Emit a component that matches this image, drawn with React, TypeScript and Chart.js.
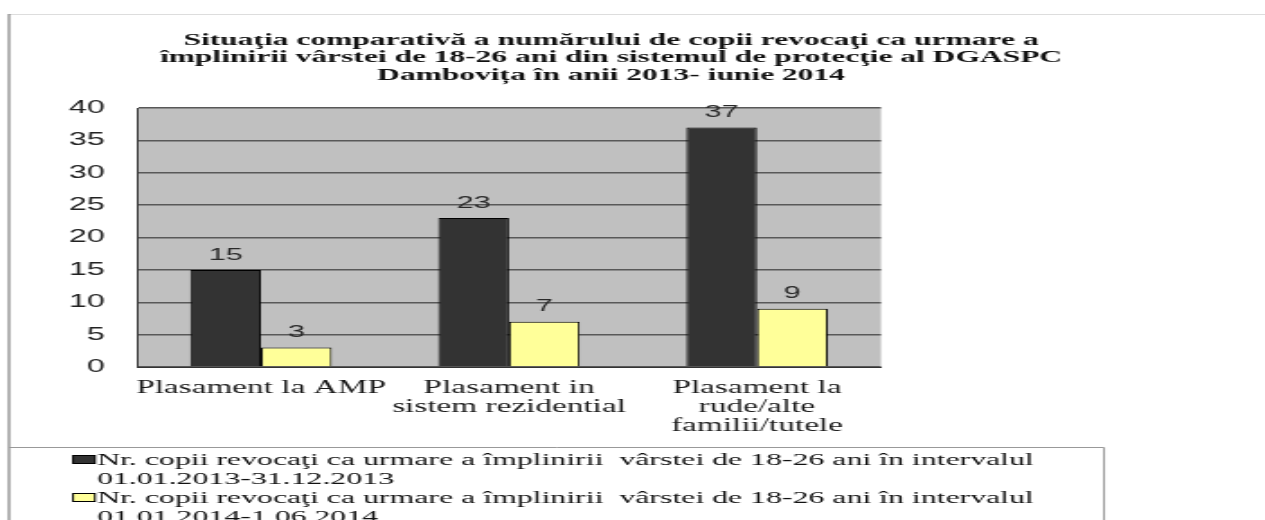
import React, { useEffect, useRef } from 'react';
import { Chart, registerables } from 'chart.js';

Chart.register(...registerables);

// ---- data ----
const CATEGORIES: string[][] = [
  ['Plasament la AMP'],
  ['Plasament in', 'sistem rezidential'],
  ['Plasament la', 'rude/alte', 'familii/tutele'],
];
const VALUES_2013: number[] = [15, 23, 37];
const VALUES_2014: number[] = [3, 7, 9];
const Y_TICKS: number[] = [0, 5, 10, 15, 20, 25, 30, 35, 40];
const TITLE_LINES: string[] = [
  'Situaţia comparativă a numărului de copii revocaţi ca urmare a',
  'împlinirii vârstei de 18-26 ani din sistemul de protecţie al DGASPC',
  'Dambovița în anii 2013- iunie 2014',
];
const LEGEND_2013: string[] = [
  'Nr. copii revocaţi ca urmare a împlinirii  vârstei de 18-26 ani în intervalul',
  '01.01.2013-31.12.2013',
];
const LEGEND_2014: string[] = [
  'Nr. copii revocaţi ca urmare a împlinirii  vârstei de 18-26 ani în intervalul',
  '01.01.2014-1.06.2014',
];

// ---- layout (internal canvas units; canvas is stretched horizontally like the source image) ----
const OUT_W = 1265;
const OUT_H = 520;
const INT_W = 703;
const S = OUT_W / INT_W;
const SERIF = '"Liberation Serif", "Times New Roman", serif';
const SANS = '"Liberation Sans", Arial, sans-serif';

const decorPlugin = {
  id: 'decor',
  beforeDraw(chart: any) {
    const { ctx, chartArea } = chart;
    ctx.save();
    ctx.fillStyle = '#ffffff';
    ctx.fillRect(0, 0, chart.width, chart.height);
    ctx.fillStyle = '#c0c0c0';
    ctx.fillRect(chartArea.left, chartArea.top, chartArea.right - chartArea.left, chartArea.bottom - chartArea.top);
    // outer frame
    ctx.strokeStyle = '#dddddd';
    ctx.lineWidth = 1;
    ctx.beginPath();
    ctx.moveTo(5, 14.5);
    ctx.lineTo(chart.width, 14.5);
    ctx.stroke();
    ctx.strokeStyle = '#666666';
    ctx.beginPath();
    ctx.moveTo(5, 14);
    ctx.lineTo(5, chart.height);
    ctx.stroke();
    // legend box
    const lx = 1104 / S;
    ctx.strokeStyle = '#999999';
    ctx.beginPath();
    ctx.moveTo(5, 447.5);
    ctx.lineTo(lx, 447.5);
    ctx.lineTo(lx, chart.height);
    ctx.stroke();
    ctx.restore();
  },
  afterDatasetsDraw(chart: any) {
    const { ctx } = chart;
    ctx.save();
    ctx.font = `17px ${SANS}`;
    ctx.fillStyle = '#2a2a2a';
    ctx.textAlign = 'center';
    ctx.textBaseline = 'middle';
    chart.data.datasets.forEach((ds: any, di: number) => {
      const meta = chart.getDatasetMeta(di);
      meta.data.forEach((bar: any, i: number) => {
        ctx.fillText(String(ds.data[i]), bar.x, bar.y - 15);
      });
    });
    ctx.restore();
  },
  afterDraw(chart: any) {
    const { ctx } = chart;
    ctx.save();
    // title
    ctx.font = `bold 17.5px ${SERIF}`;
    ctx.fillStyle = '#111111';
    ctx.textAlign = 'center';
    ctx.textBaseline = 'middle';
    const tx = 611 / S;
    TITLE_LINES.forEach((line, i) => ctx.fillText(line, tx, 40 + i * 17.5));
    // legend
    ctx.font = `17.7px ${SERIF}`;
    ctx.textAlign = 'left';
    const items = [
      { lines: LEGEND_2013, ds: chart.data.datasets[0], y: 460 },
      { lines: LEGEND_2014, ds: chart.data.datasets[1], y: 498 },
    ];
    items.forEach((it) => {
      ctx.fillStyle = it.ds.backgroundColor;
      ctx.fillRect(73 / S, it.y - 4.5, 22 / S, 8);
      ctx.strokeStyle = '#000000';
      ctx.lineWidth = 1;
      ctx.strokeRect(73 / S, it.y - 4.5, 22 / S, 8);
      ctx.fillStyle = '#111111';
      it.lines.forEach((line, j) => ctx.fillText(line, 97 / S, it.y + j * 19));
    });
    ctx.restore();
  },
};

export default function App() {
  const ref = useRef<HTMLCanvasElement>(null);
  useEffect(() => {
    if (!ref.current) return;
    const chart = new Chart(ref.current, {
      type: 'bar',
      data: {
        labels: CATEGORIES,
        datasets: [
          {
            label: LEGEND_2013.join(' '),
            data: VALUES_2013,
            backgroundColor: '#333333',
            borderColor: '#000000',
            borderWidth: 1,
            categoryPercentage: 0.57,
            barPercentage: 1.0,
          },
          {
            label: LEGEND_2014.join(' '),
            data: VALUES_2014,
            backgroundColor: '#ffff99',
            borderColor: '#000000',
            borderWidth: 1,
            categoryPercentage: 0.57,
            barPercentage: 1.0,
          },
        ],
      },
      options: {
        responsive: false,
        animation: false,
        devicePixelRatio: 1,
        layout: { padding: { left: 0, right: INT_W - 881 / S, top: 108, bottom: 73 } },
        plugins: {
          legend: { display: false },
          title: { display: false },
          tooltip: { enabled: false },
        },
        scales: {
          x: {
            afterFit: (scale: any) => { scale.height = 80; },
            grid: { display: false, drawTicks: false },
            border: { display: true, color: '#333333', width: 1 },
            ticks: {
              padding: 11.5,
              color: '#1a1a1a',
              font: { family: SERIF, size: 18.5, lineHeight: 19 / 18.5 },
              maxRotation: 0,
              autoSkip: false,
            },
          },
          y: {
            min: Y_TICKS[0],
            max: Y_TICKS[Y_TICKS.length - 1],
            afterFit: (scale: any) => { scale.width = 137 / S; },
            afterBuildTicks: (scale: any) => { scale.ticks = Y_TICKS.map((v) => ({ value: v })); },
            grid: { color: '#585858', lineWidth: 1.5, drawTicks: false },
            border: { display: true, color: '#333333', width: 1 },
            ticks: {
              padding: 137 / S - 105 / S,
              color: '#222222',
              font: { family: SANS, size: 18 },
            },
          },
        },
      },
      plugins: [decorPlugin],
    });
    return () => chart.destroy();
  }, []);
  return (
    <div style={{ position: 'fixed', left: 0, top: 0, width: OUT_W, height: OUT_H, background: '#fff' }}>
      <canvas
        ref={ref}
        width={INT_W}
        height={OUT_H}
        style={{ width: OUT_W + 'px', height: OUT_H + 'px', display: 'block' }}
      />
    </div>
  );
}
